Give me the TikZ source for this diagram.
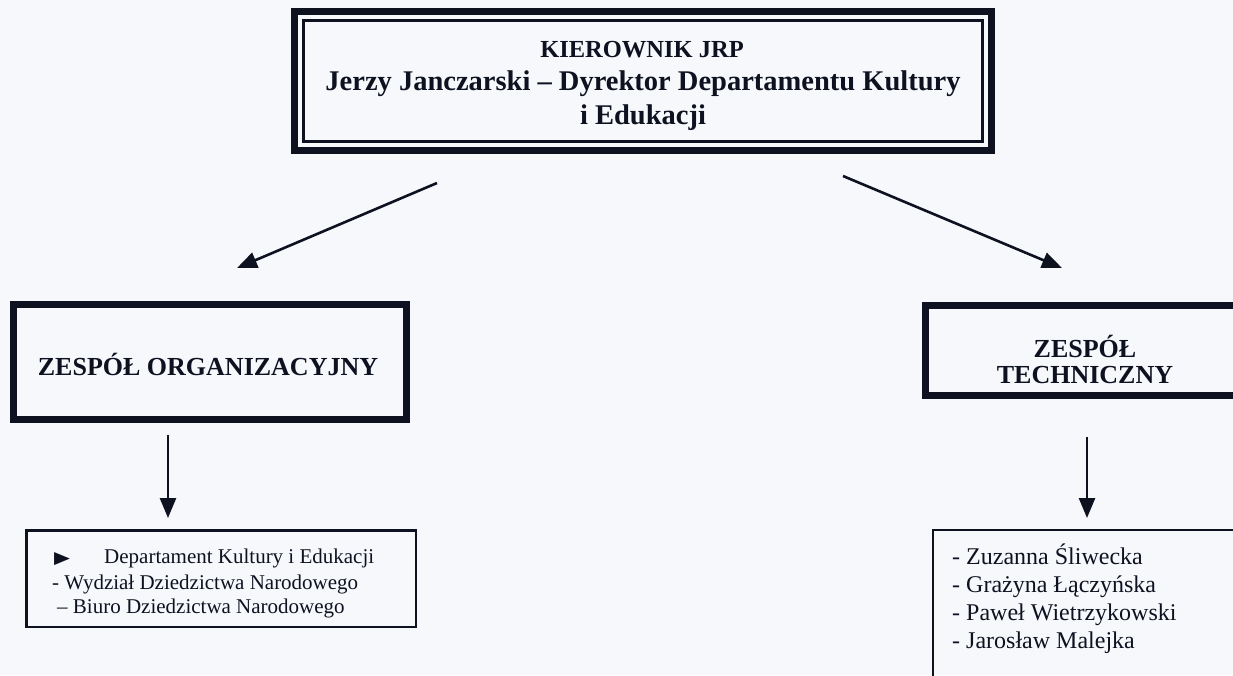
\documentclass[tikz,border=0pt]{standalone}
\usepackage{fontspec}
\setmainfont{Liberation Serif}
\newfontfamily\symfont{DejaVu Sans}
\usetikzlibrary{arrows.meta,calc}
\definecolor{ink}{RGB}{14,18,32}
\definecolor{paper}{RGB}{246,248,252}
\begin{document}
\begin{tikzpicture}[x=1pt,y=-1pt,
  heavybox/.style={draw=ink,line width=7pt,inner sep=0pt,outer sep=0pt},
  thinbox/.style={draw=ink,line width=2.5pt,inner sep=0pt,outer sep=0pt},
  arr/.style={draw=ink,line width=2.6pt,-{Triangle[length=20pt,width=16pt]}},
  headfont/.style={font=\bfseries\fontsize{26}{26}\selectfont,text=ink,inner sep=0pt},
  topfont/.style={font=\bfseries\fontsize{28.5}{33}\selectfont,text=ink,inner sep=0pt,anchor=base},
  smallfont/.style={font=\fontsize{21}{25}\selectfont,text=ink,inner sep=0pt,anchor=base west},
  namefont/.style={font=\fontsize{24}{28}\selectfont,text=ink,inner sep=0pt,anchor=base west}]
\useasboundingbox (0,0) rectangle (1233,675);
\fill[paper] (0,0) rectangle (1233,675);
\clip (0,0) rectangle (1233,675);

% top box
\node[heavybox,minimum width=697pt,minimum height=139pt] (head) at (643,81) {};
\draw[ink,line width=2.5pt] ($(head.north west)+(9,9)$) rectangle ($(head.south east)+(-9,-9)$);
\node[topfont,font=\bfseries\fontsize{24.5}{30}\selectfont] (head1) at (642,57) {KIEROWNIK JRP};
\node[topfont] (head2) at (643,90) {Jerzy Janczarski -- Dyrektor Departamentu Kultury};
\node[topfont] (head3) at (643,124) {i Edukacji};

% second level
\node[heavybox,minimum width=393pt,minimum height=115pt] (org) at (210,362) {};
\node[headfont,anchor=base] (orgtext) at (208,375) {ZESPÓŁ ORGANIZACYJNY};

\node[heavybox,minimum width=750pt,minimum height=90pt] (tech) at (1300.5,350.5) {};
\node[headfont,anchor=base] (tech1) at (1085,357) {ZESPÓŁ};
\node[headfont,anchor=base] (tech2) at (1085,383) {TECHNICZNY};

% arrows from top
\coordinate (hl) at (437,183);
\coordinate (hlt) at (237,268);
\coordinate (hr) at (843,176);
\coordinate (hrt) at (1062,268);
\draw[arr] (hl) -- (hlt);
\draw[arr] (hr) -- (hrt);

% third level
\node[thinbox,minimum width=389.5pt,minimum height=96.5pt] (orglist) at (221,578.5) {};
\node[smallfont] (l0) at (54,563) {\symfont\fontsize{18}{18}\selectfont\scalebox{1.15}[0.95]{▶}};
\node[smallfont] (l1) at (104,563) {Departament Kultury i Edukacji};
\node[smallfont] (l2) at (52,589) {- Wydział Dziedzictwa Narodowego};
\node[smallfont] (l3) at (57,613) {-- Biuro Dziedzictwa Narodowego};

\node[thinbox,minimum width=466.75pt,minimum height=189.75pt] (techlist) at (1166.6,625.1) {};
\node[namefont] (m1) at (952,564) {- Zuzanna Śliwecka};
\node[namefont] (m2) at (952,592) {- Grażyna Łączyńska};
\node[namefont] (m3) at (952,620) {- Paweł Wietrzykowski};
\node[namefont] (m4) at (952,648) {- Jarosław Malejka};

% down arrows
\coordinate (od1) at (168,435);
\coordinate (od2) at (168,518);
\coordinate (td1) at (1087,437);
\coordinate (td2) at (1087,518);
\draw[arr] (od1) -- (od2);
\draw[arr] (td1) -- (td2);
\end{tikzpicture}
\end{document}
